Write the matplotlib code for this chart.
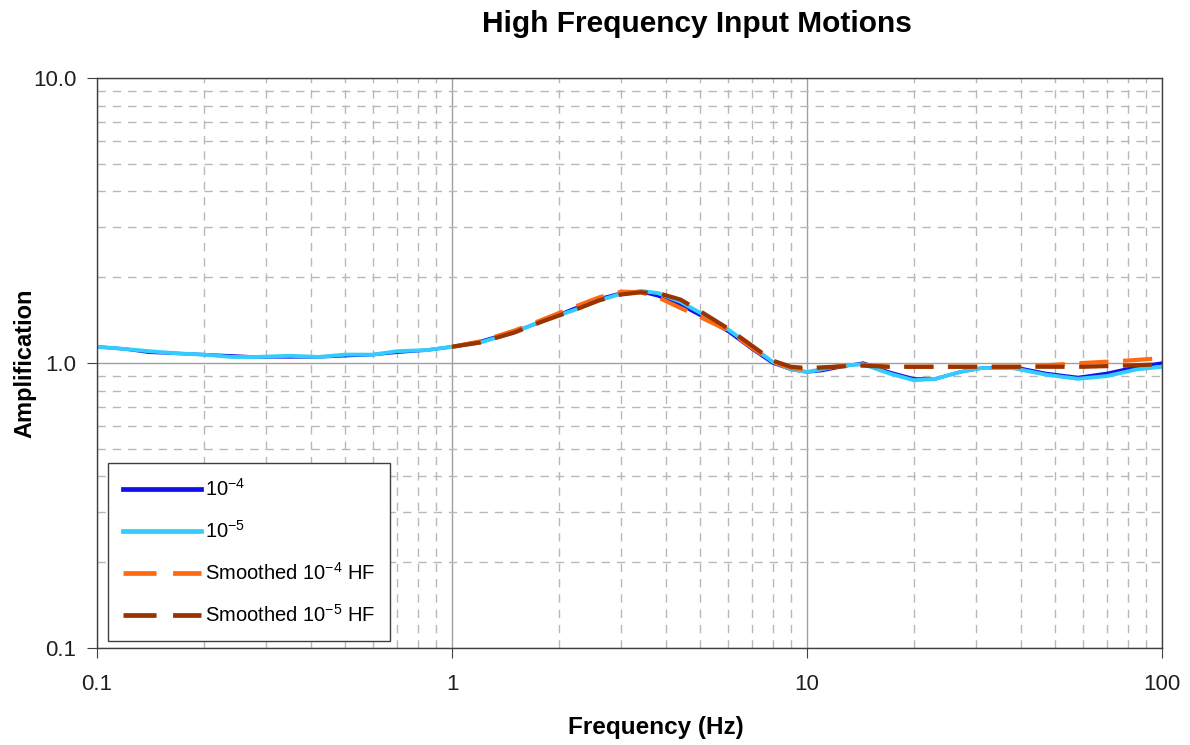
import numpy as np
import matplotlib
matplotlib.use("Agg")
import matplotlib.pyplot as plt
from matplotlib.ticker import FixedLocator, LogLocator, NullFormatter

plt.rcParams['font.family'] = ['Liberation Sans', 'DejaVu Sans']
plt.rcParams['mathtext.fontset'] = 'custom'
plt.rcParams['mathtext.rm'] = 'Liberation Sans'
plt.rcParams['mathtext.it'] = 'Liberation Sans'
plt.rcParams['mathtext.default'] = 'regular'

# raw transfer functions
freq_raw = [0.1, 0.12, 0.14, 0.17, 0.2, 0.24, 0.28, 0.35, 0.42, 0.5, 0.6, 0.7, 0.85,
            1.0, 1.2, 1.5, 1.8, 2.2, 2.6, 3.0, 3.4, 3.8, 4.4, 5.0, 6.0, 7.0, 8.0, 9.0,
            10, 11, 12.5, 14.4, 17, 20, 23, 27, 31, 38, 47, 58, 70, 85, 100]
amp_1e4 = [1.14, 1.12, 1.09, 1.08, 1.07, 1.06, 1.05, 1.05, 1.05, 1.06, 1.07, 1.09, 1.11,
           1.14, 1.19, 1.29, 1.40, 1.55, 1.68, 1.76, 1.78, 1.72, 1.60, 1.47, 1.29, 1.12, 1.00, 0.95,
           0.93, 0.94, 0.97, 1.00, 0.93, 0.88, 0.88, 0.93, 0.96, 0.97, 0.92, 0.89, 0.92, 0.97, 1.00]
amp_1e5 = [1.14, 1.12, 1.10, 1.08, 1.07, 1.05, 1.05, 1.06, 1.05, 1.07, 1.07, 1.10, 1.11,
           1.14, 1.18, 1.28, 1.41, 1.53, 1.66, 1.75, 1.79, 1.76, 1.64, 1.50, 1.31, 1.14, 1.01, 0.95,
           0.93, 0.95, 0.98, 0.99, 0.92, 0.87, 0.88, 0.93, 0.96, 0.96, 0.91, 0.88, 0.90, 0.95, 0.97]

# smoothed HF curves
freq_sm = [1.0, 1.2, 1.5, 1.8, 2.2, 2.6, 3.0, 3.4, 3.8, 4.4, 5.0, 6.0, 7.0, 8.0, 9.0,
           10, 12, 14, 17, 20, 30, 40, 60, 80, 100]
sm_1e4 = [1.14, 1.19, 1.30, 1.42, 1.57, 1.70, 1.78, 1.77, 1.70, 1.56, 1.45, 1.30, 1.13, 1.01, 0.96,
          0.95, 0.97, 0.99, 0.97, 0.97, 0.97, 0.97, 1.00, 1.02, 1.04]
sm_1e5 = [1.14, 1.18, 1.28, 1.40, 1.53, 1.66, 1.74, 1.77, 1.76, 1.67, 1.52, 1.32, 1.15, 1.02, 0.97,
          0.96, 0.97, 0.98, 0.97, 0.97, 0.97, 0.97, 0.97, 0.98, 0.99]

fig = plt.figure(figsize=(11.9, 7.45), dpi=100)
ax = fig.add_axes([0.0815, 0.1302, 0.895, 0.7651])

ax.plot(freq_raw, amp_1e4, color='#1010E8', lw=2.4, label=r'$10^{-4}$')
ax.plot(freq_raw, amp_1e5, color='#33CCFF', lw=2.8, label=r'$10^{-5}$')
ax.plot(freq_sm, sm_1e4, color='#FF6A10', lw=3.0, dashes=(7, 3.5), label=r'Smoothed $10^{-4}$ HF')
ax.plot(freq_sm, sm_1e5, color='#993300', lw=3.0, dashes=(7, 3.5), dash_capstyle='butt',
        label=r'Smoothed $10^{-5}$ HF')

ax.set_xscale('log')
ax.set_yscale('log')
ax.set_xlim(0.1, 100)
ax.set_ylim(0.1, 10)

ax.xaxis.set_major_locator(FixedLocator([0.1, 1, 10, 100]))
ax.set_xticklabels(['0.1', '1', '10', '100'])
ax.yaxis.set_major_locator(FixedLocator([0.1, 1, 10]))
ax.set_yticklabels(['0.1', '1.0', '10.0'])
ax.xaxis.set_minor_locator(LogLocator(base=10, subs=np.arange(2, 10), numticks=20))
ax.yaxis.set_minor_locator(LogLocator(base=10, subs=np.arange(2, 10), numticks=20))
ax.xaxis.set_minor_formatter(NullFormatter())
ax.yaxis.set_minor_formatter(NullFormatter())

ax.grid(True, which='major', color='#a0a0a0', lw=1.0, ls='-')
ax.grid(True, which='minor', color='#b8b8b8', lw=1.0, ls=(0, (6, 5)))
ax.set_axisbelow(True)

ax.tick_params(axis='both', which='major', labelsize=16, length=7, color='#404040',
               direction='out', labelcolor='#202020')
ax.tick_params(axis='both', which='minor', length=0)
ax.tick_params(axis='x', pad=12)
ax.tick_params(axis='y', pad=8)
for s in ax.spines.values():
    s.set_color('#404040')
    s.set_linewidth(1.0)

ax.set_xlabel('Frequency (Hz)', fontsize=17.5, fontweight='bold')
ax.xaxis.set_label_coords(0.525, -0.119)
ax.set_ylabel('Amplification', fontsize=17, fontweight='bold')
ax.yaxis.set_label_coords(-0.057, 0.5)
fig.text(0.586, 0.968, 'High Frequency Input Motions', fontsize=21.5, fontweight='bold',
         ha='center', va='center')

leg = ax.legend(loc='lower left', bbox_to_anchor=(0.01, 0.012), borderaxespad=0,
                fontsize=14.5, fancybox=False, framealpha=1, edgecolor='#404040',
                handlelength=3.9, labelspacing=1.0, borderpad=0.75, handletextpad=0.2)
leg.get_frame().set_linewidth(1.0)
for h in leg.get_lines():
    h.set_linewidth(3.4)

fig.savefig('out.png', dpi=100)
